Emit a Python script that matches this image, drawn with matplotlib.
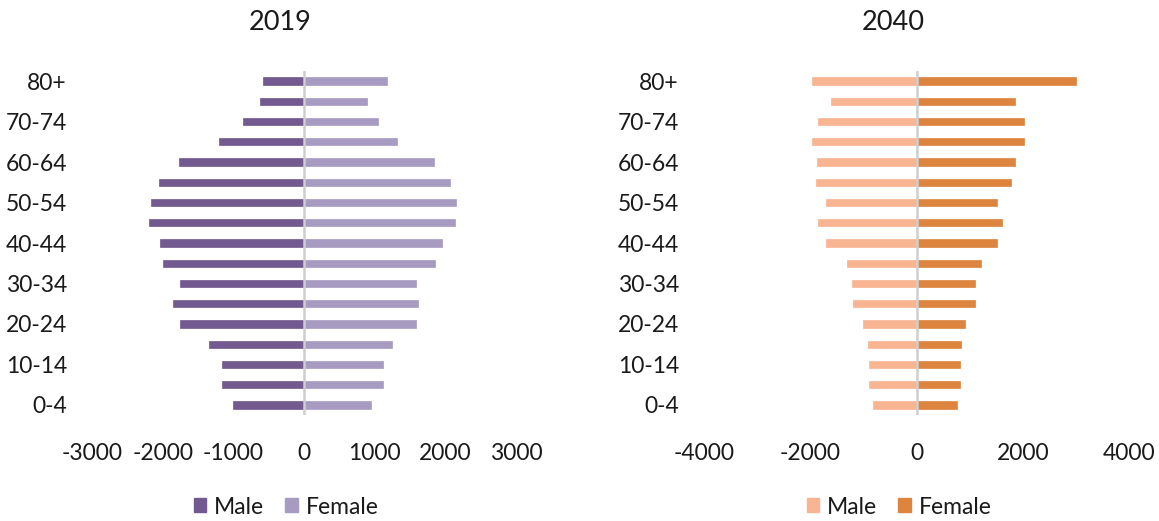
import matplotlib.pyplot as plt
import numpy as np
from matplotlib.patches import Patch

plt.rcParams['font.family'] = ['Lato', 'DejaVu Sans']
plt.rcParams['axes.unicode_minus'] = False

# Age groups, youngest first
age_groups = ['0-4', '5-9', '10-14', '15-19', '20-24', '25-29', '30-34', '35-39',
              '40-44', '45-49', '50-54', '55-59', '60-64', '65-69', '70-74',
              '75-79', '80+']

# Population (thousands), 2019
male_2019 = [1000, 1165, 1165, 1350, 1750, 1855, 1750, 2000, 2040, 2200,
             2170, 2050, 1770, 1200, 870, 620, 580]
female_2019 = [950, 1115, 1115, 1240, 1585, 1620, 1585, 1860, 1950, 2135,
               2155, 2060, 1840, 1315, 1045, 885, 1170]

# Population (thousands), 2040
male_2040 = [810, 885, 885, 910, 1005, 1200, 1220, 1310, 1700, 1845,
             1700, 1895, 1870, 1970, 1845, 1605, 1970]
female_2040 = [770, 825, 825, 845, 915, 1110, 1110, 1205, 1520, 1615,
               1520, 1785, 1860, 2030, 2030, 1860, 2995]

W, H = 1159, 521
fig = plt.figure(figsize=(W / 100, H / 100), dpi=100)


def pyramid(left_px, right_px, male, female, c_male, c_female, xmax, step, title, title_x, leg_x):
    ax = fig.add_axes([left_px / W, (H - 415.1) / H, (right_px - left_px) / W, 344.2 / H])
    y = np.arange(len(age_groups))
    ax.barh(y, -np.array(male), height=0.36, color=c_male, edgecolor=c_male, linewidth=0.5)
    ax.barh(y, female, height=0.36, color=c_female, edgecolor=c_female, linewidth=0.5)
    ax.axvline(0, color='#cfcfcf', lw=1.8, zorder=3)
    ax.set_xlim(-xmax, xmax)
    ax.set_ylim(-0.5, len(age_groups) - 0.5)
    ax.set_xticks(np.arange(-xmax, xmax + 1, step))
    ax.set_yticks(y[::2])
    ax.set_yticklabels(age_groups[::2])
    ax.tick_params(axis='both', length=0, labelsize=16.5, colors='#1a1a1a')
    ax.tick_params(axis='y', pad=18)
    ax.tick_params(axis='x', pad=20)
    for s in ax.spines.values():
        s.set_visible(False)
    fig.text(title_x / W, 1 - 22 / H, title, ha='center', va='center', fontsize=19.5, color='#1a1a1a')
    handles = [Patch(color=c_male, label='Male'), Patch(color=c_female, label='Female')]
    fig.legend(handles=handles, loc='center', bbox_to_anchor=(leg_x / W, 1 - 507 / H), ncol=2,
               frameon=False, fontsize=16.5, handlelength=0.55, handleheight=0.55,
               handletextpad=0.35, columnspacing=0.9, labelcolor='#1a1a1a')
    return ax


pyramid(92, 516, male_2019, female_2019, '#72598f', '#a89bc1', 3000, 1000, '2019', 280, 286)
pyramid(704, 1129, male_2040, female_2040, '#f9b592', '#dd853e', 4000, 2000, '2040', 893, 899)

plt.savefig('out.png', dpi=100)
